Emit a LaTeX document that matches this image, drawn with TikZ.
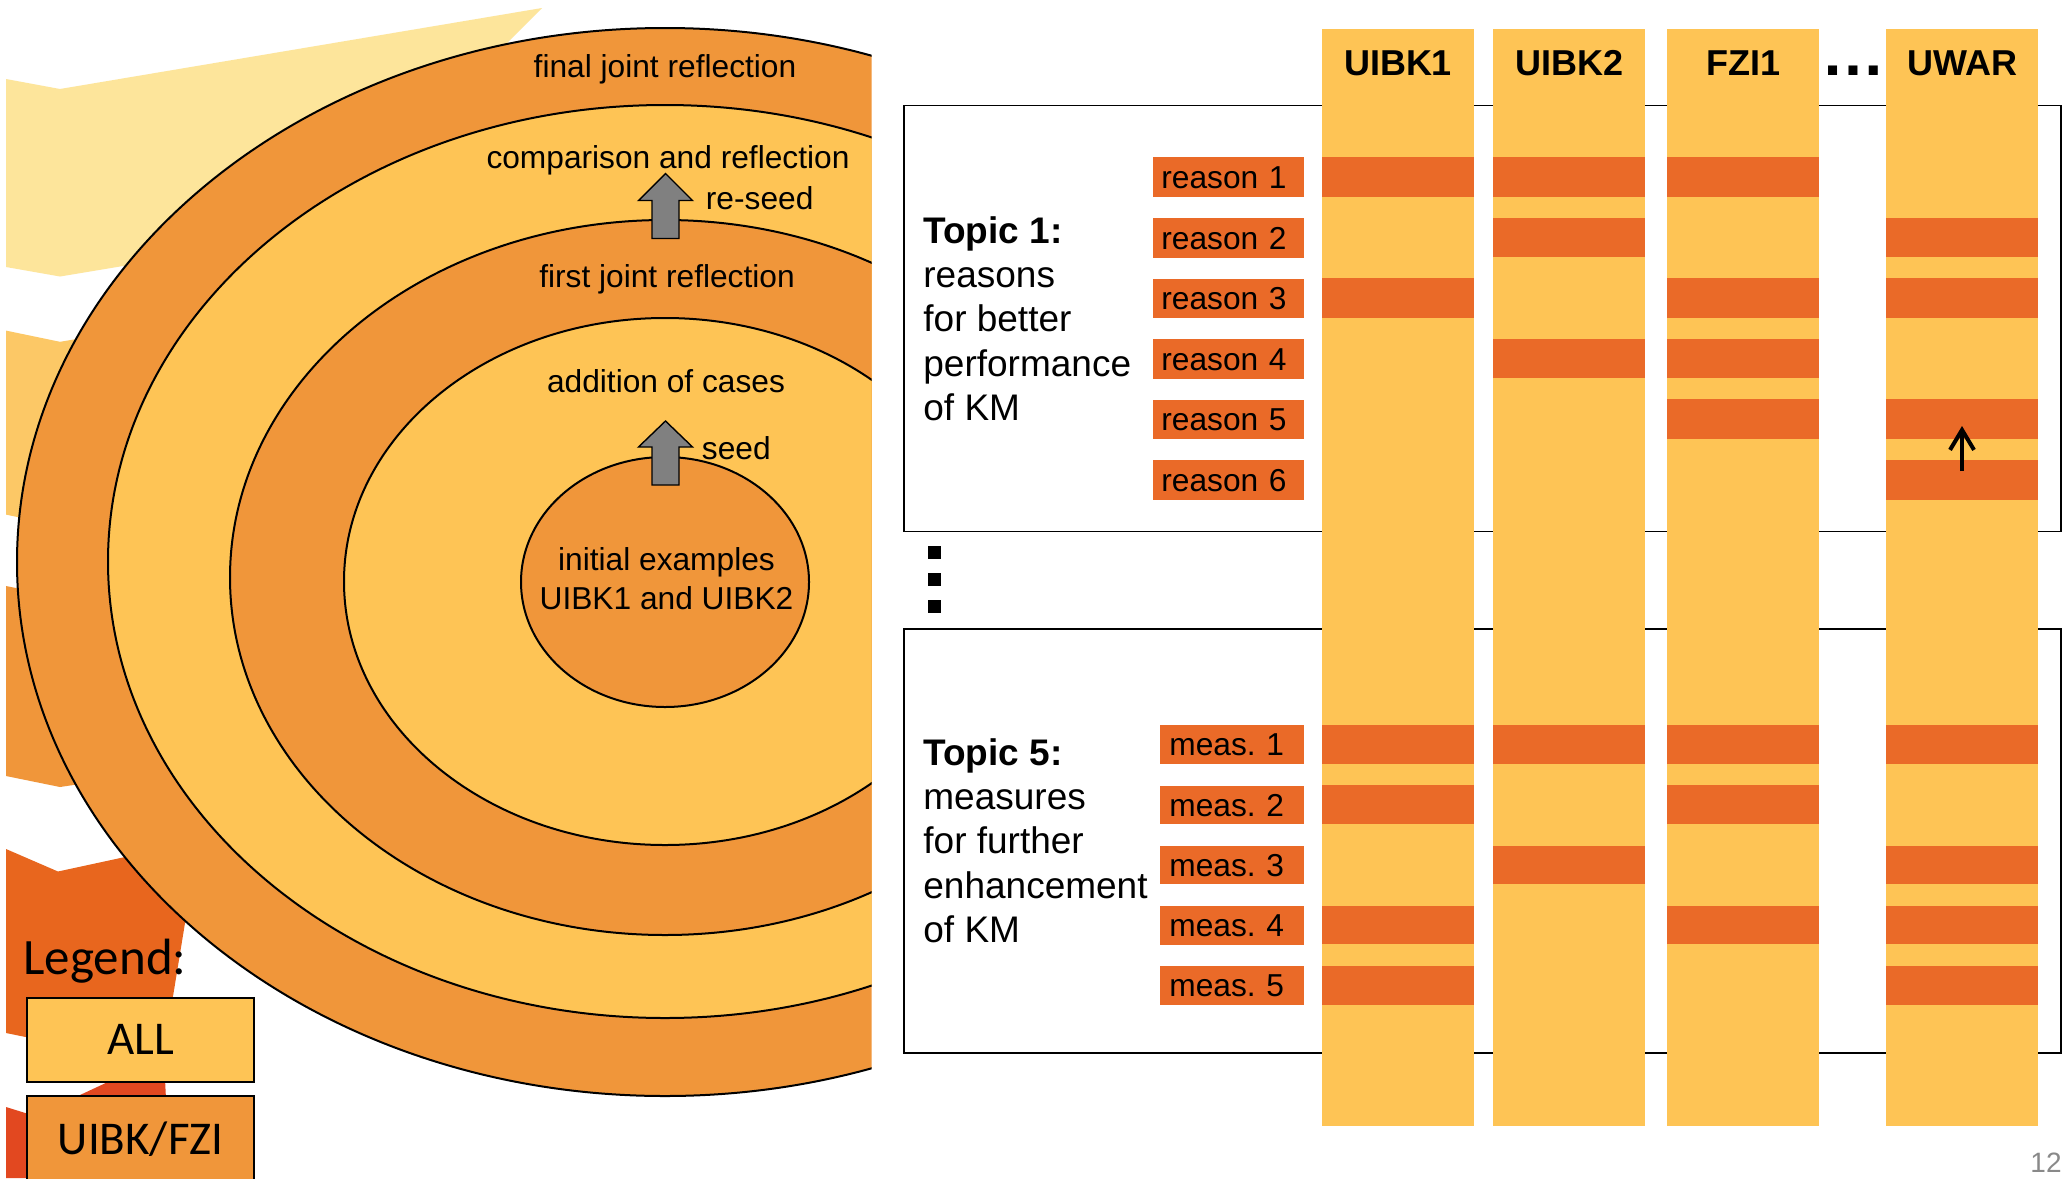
\documentclass[tikz,border=0pt]{standalone}
\usepackage{fontspec}
\setmainfont{Liberation Sans}
\newfontfamily\legendfont{Carlito}
\usetikzlibrary{arrows.meta}

\definecolor{ringorange}{RGB}{240,150,58}
\definecolor{ringyellow}{RGB}{254,196,85}
\definecolor{markorange}{RGB}{234,106,40}
\definecolor{chevpale}{RGB}{253,229,155}
\definecolor{chevyellow}{RGB}{252,200,102}
\definecolor{chevorange}{RGB}{240,150,58}
\definecolor{chevdark}{RGB}{232,102,30}
\definecolor{chevred}{RGB}{226,72,32}
\definecolor{blockgray}{RGB}{128,128,128}
\definecolor{pagegray}{RGB}{137,137,137}

\newcommand\ringfont{\fontsize{15.85pt}{19.75pt}\selectfont}
\newcommand\topicfont{\fontsize{18.5pt}{22.2pt}\selectfont}

\begin{document}
\frenchspacing
\begin{tikzpicture}[x=0.5pt,y=-0.5pt,
  ring/.style={draw=black,line width=1pt},
  blockarrow/.style={fill=blockgray,draw=black,line width=0.7pt,line join=miter},
  ringtext/.style={font=\ringfont,inner sep=0,anchor=base},
  topicbox/.style={draw=black,line width=0.8pt,inner sep=0,anchor=north west,minimum width=578.5pt},
  itemlbl/.style={fill=markorange,anchor=north west,inner ysep=0pt,text height=11.3pt,text depth=0pt,align=left,font=\ringfont},
  reasonlbl/.style={itemlbl,inner xsep=4pt,text width=67.5pt,minimum height=19.75pt},
  measlbl/.style={itemlbl,inner xsep=4.5pt,text width=63pt,minimum height=19.25pt},
  column/.style={fill=ringyellow,inner sep=0,anchor=north west,minimum width=76pt,minimum height=548.25pt},
  header/.style={font=\fontsize{18pt}{21pt}\selectfont\bfseries,inner sep=0,anchor=base},
  legbox/.style={draw=black,line width=1pt,inner sep=0,anchor=north west,minimum width=113.8pt,text height=14.65pt,text depth=0pt,font=\legendfont\fontsize{23.5pt}{28pt}\selectfont},
]
\useasboundingbox (0,0) rectangle (2064,1178);
\fill[white] (0,0) rectangle (2064,1178);

% background chevrons on the left edge
\fill[chevpale]   (6,79) -- (60,89) -- (542,8) -- (420,130) -- (400,220) -- (60,276.5) -- (6,267) -- cycle;
\fill[chevyellow] (6,330.6) -- (60,341.8) -- (200,318.5) -- (200,502.8) -- (60,526) -- (6,514.6) -- cycle;
\fill[chevorange] (6,586) -- (60,597) -- (200,574) -- (200,766) -- (60,787) -- (6,776) -- cycle;
\fill[chevdark]   (6,849) -- (58,871.5) -- (250,830) -- (195,862) -- (168,1027) -- (60,1044) -- (6,1033) -- cycle;
\fill[chevred]    (6,1107) -- (35,1116) -- (110,1081) -- (165,1079) -- (170,1178) -- (6,1178) -- cycle;

% nested rings of the process
\begin{scope}
  \clip (0,0) rectangle (871.5,1178);
  \filldraw[ring,fill=ringorange] (665,562)   ellipse [x radius=648, y radius=534];
  \filldraw[ring,fill=ringyellow] (665,561.5) ellipse [x radius=557, y radius=456.5];
  \filldraw[ring,fill=ringorange] (665,577.5) ellipse [x radius=435, y radius=357.5];
  \filldraw[ring,fill=ringyellow] (665,581.5) ellipse [x radius=321, y radius=263.5];
  \filldraw[ring,fill=ringorange] (665,582)   ellipse [x radius=144, y radius=125];
\end{scope}

\node[ringtext] (final)   at (665,77)    {final joint reflection};
\node[ringtext] (compare) at (668,168.5) {comparison and reflection};
\node[ringtext] (first)   at (667,287)   {first joint reflection};
\node[ringtext] (addcase) at (666,392.5) {addition of cases};
\node[ringtext] (initial) at (666.5,570) {\parbox[t]{200pt}{\centering\ringfont initial examples\\UIBK1 and UIBK2}};

% block arrows
\coordinate (reseedtip) at (665.5,173.5);
\draw[blockarrow] (reseedtip) -- ++(27,27) -- ++(-13.5,0) -- ++(0,38) -- ++(-27,0) -- ++(0,-38) -- ++(-13.5,0) -- cycle;
\coordinate (seedtip) at (665.5,421);
\draw[blockarrow] (seedtip) -- ++(27,26) -- ++(-13.5,0) -- ++(0,38) -- ++(-27,0) -- ++(0,-38) -- ++(-13.5,0) -- cycle;
\node[ringtext,anchor=base west] (reseed) at (705.5,209.5) {re-seed};
\node[ringtext,anchor=base west] (seed)   at (701.5,459.5) {seed};

% legend
\node[anchor=base west,inner sep=0,font=\legendfont\fontsize{25.5pt}{30pt}\selectfont] (legend) at (23,974) {Legend:};
\node[legbox,fill=ringyellow,minimum height=41.7pt] (legall) at (25.7,997.3) {ALL};
\node[legbox,fill=ringorange,minimum height=43.7pt] (legpart) at (25.7,1095) {UIBK/FZI};

% topic frames
\node[topicbox,minimum height=212.95pt] (topic1box) at (903,104.6) {};
\node[topicbox,minimum height=212pt]    (topic5box) at (903,628) {};

\node[anchor=base west,inner sep=0] (topic1) at (923,243)
  {\parbox[t]{130pt}{\topicfont\textbf{Topic 1:}\\reasons\\for better\\performance\\of KM}};
\node[anchor=base west,inner sep=0] (topic5) at (923,765)
  {\parbox[t]{130pt}{\topicfont\textbf{Topic 5:}\\measures\\for further\\enhancement\\of KM}};

\foreach \i in {1,...,6}
  \node[reasonlbl] (reason\i) at (1153,{157+60.6*(\i-1)}) {reason \i};
\foreach \i in {1,...,5}
  \node[measlbl] (meas\i) at (1160,{725+60.25*(\i-1)}) {meas.\ \i};

% vertical ellipsis between the topics
\foreach \y in {546,573,600}
  \fill (928,\y) rectangle ++(12.7,12.7);

% partner columns
\node[column] (coluibk1) at (1322,29) {};
\node[column] (coluibk2) at (1493,29) {};
\node[column] (colfzi1)  at (1667,29) {};
\node[column] (coluwar)  at (1886,29) {};

\foreach \cx/\rows in {1322/{1,3},1493/{1,2,4},1667/{1,3,4,5},1886/{2,3,5,6}}
  \foreach \r in \rows
    \fill[markorange] (\cx,{157+60.6*(\r-1)}) rectangle ++(152,39.5);
\foreach \cx/\rows in {1322/{1,2,4,5},1493/{1,3},1667/{1,2,4},1886/{1,3,4,5}}
  \foreach \r in \rows
    \fill[markorange] (\cx,{725+60.25*(\r-1)}) rectangle ++(152,38.5);

\node[header] (huibk1) at (1398,75) {UIBK1};
\node[header] (huibk2) at (1569,75) {UIBK2};
\node[header] (hfzi1)  at (1743,75) {FZI1};
\node[header] (huwar)  at (1962,75) {UWAR};
\node[font=\fontsize{32pt}{36pt}\selectfont\bfseries,inner sep=0,anchor=base] (hdots) at (1853,75) {…};

% arrow inside the UWAR column
\coordinate (uwarfrom) at (1962,471);
\coordinate (uwarto)   at (1962,426);
\draw[line width=2pt,-{Straight Barb[length=10pt,width=12pt]}] (uwarfrom) -- (uwarto);

% page number
\node[anchor=base east,inner sep=0,text=pagegray,font=\fontsize{14pt}{16pt}\selectfont] (pagenum) at (2062,1172.7) {12};
\end{tikzpicture}
\end{document}
